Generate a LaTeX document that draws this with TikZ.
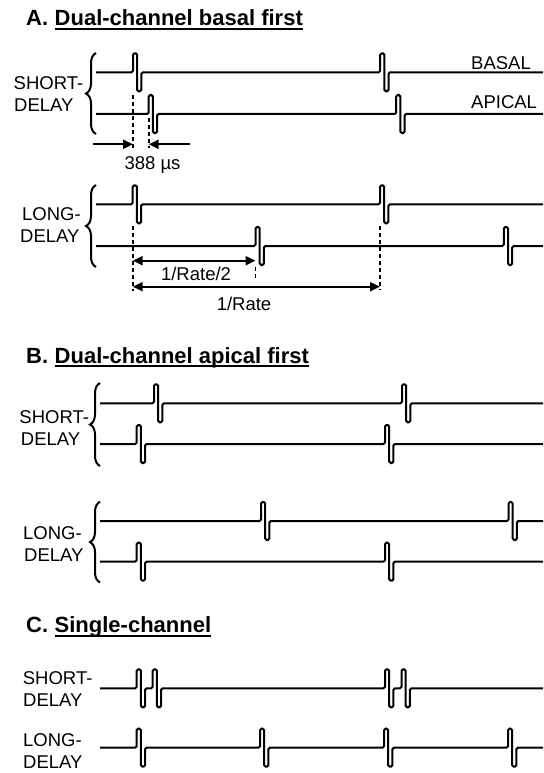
\documentclass[tikz,border=0pt]{standalone}
\usepackage{fontspec}
\setmainfont{Liberation Sans}
\usetikzlibrary{arrows.meta,decorations.pathreplacing}
\newcommand\pls[2]{-- ({#1},{#2}) -- ({#1},{#2-19}) -- ({#1+4.2},{#2-19}) -- ({#1+4.2},{#2+19}) -- ({#1+8.4},{#2+19}) -- ({#1+8.4},{#2})}
\begin{document}
\begin{tikzpicture}[x=1pt,y=-1pt,
  sig/.style={line width=2pt, rounded corners=1.5pt},
  lab/.style={font=\fontsize{18.5}{22}\selectfont, inner sep=0pt, anchor=base west},
  ttl/.style={font=\fontsize{22}{26}\selectfont\bfseries, inner sep=0pt, anchor=base west},
  brc/.style={line width=2pt, decorate, decoration={brace, amplitude=10pt}},
  dsh/.style={line width=1.6pt, dash pattern=on 4pt off 3pt},
  arr/.style={line width=2pt, -{Triangle[length=10pt,width=9pt]}},
  darr/.style={line width=2pt, {Triangle[length=10pt,width=9pt]}-{Triangle[length=10pt,width=9pt]}}]
\useasboundingbox (0,0) rectangle (543,773);
% ---------- Titles ----------
\node[ttl] (tA) at (26,26) {A.};
\node[ttl] (tAu) at ([xshift=6.1pt]tA.base east) {Dual-channel basal first};
\draw[line width=2pt] ([yshift=-3.4pt]tAu.base west) -- ([yshift=-3.4pt]tAu.base east);
\node[ttl] (tB) at (26,363) {B.};
\node[ttl] (tBu) at ([xshift=6.1pt]tB.base east) {Dual-channel apical first};
\draw[line width=2pt] ([yshift=-3.4pt]tBu.base west) -- ([yshift=-3.4pt]tBu.base east);
\node[ttl] (tC) at (26,632.7) {C.};
\node[ttl] (tCu) at ([xshift=6.1pt]tC.base east) {Single-channel};
\draw[line width=2pt] ([yshift=-3.4pt]tCu.base west) -- ([yshift=-3.4pt]tCu.base east);
% ---------- A short ----------
\node[lab] (aS1) at (13.5,89.6) {SHORT-};
\node[lab] (aS2) at (14,111.6) {DELAY};
\draw[brc] (96,134) -- (96,53);
\draw[sig] (96,72.3) \pls{133}{72.3} \pls{380.2}{72.3} -- (543,72.3);
\draw[sig] (96,114) \pls{148.7}{114} \pls{396.2}{114} -- (543,114);
\node[lab] (basal) at (471,69.3) {BASAL};
\node[lab] (apical) at (471,108.3) {APICAL};
\coordinate (d1t) at (133,95);
\coordinate (d1b) at (133,148);
\coordinate (d2t) at (148.7,118);
\coordinate (d2b) at (148.7,148);
\draw[dsh] (d1t) -- (d1b);
\draw[dsh] (d2t) -- (d2b);
\coordinate (l388) at (93,144.3);
\coordinate (r388) at (190,144.3);
\coordinate (h1) at (133,144.3);
\coordinate (h2) at (148.7,144.3);
\draw[arr] (l388) -- (h1);
\draw[arr] (r388) -- (h2);
\node[lab, anchor=base] (t388) at (152.5,169.3) {388 µs};
% ---------- A long ----------
\node[lab] (aL1) at (22,220.6) {LONG-};
\node[lab] (aL2) at (20,242.6) {DELAY};
\draw[brc] (96,267) -- (96,185);
\draw[sig] (96,204.3) \pls{132.7}{204.3} \pls{380}{204.3} -- (543,204.3);
\draw[sig] (96,246) \pls{255.5}{246} \pls{503.8}{246} -- (543,246);
\coordinate (e1t) at (132.7,226);
\coordinate (e1b) at (132.7,291);
\coordinate (e2t) at (255.5,267);
\coordinate (e2b) at (255.5,278);
\coordinate (e3t) at (380,226);
\coordinate (e3b) at (380,290);
\draw[dsh] (e1t) -- (e1b);
\draw[dsh] (e2t) -- (e2b);
\draw[dsh] (e3t) -- (e3b);
\coordinate (hr1) at (132.7,260.7);
\coordinate (hr2) at (255.5,260.7);
\coordinate (fr1) at (132.7,286.7);
\coordinate (fr2) at (380,286.7);
\draw[darr] (hr1) -- (hr2);
\draw[darr] (fr1) -- (fr2);
\node[lab, anchor=base] (thalf) at (196,280) {1/Rate/2};
\node[lab, anchor=base] (tfull) at (244,310) {1/Rate};
% ---------- B short ----------
\node[lab] (bS1) at (19.3,423.3) {SHORT-};
\node[lab] (bS2) at (20.7,445.9) {DELAY};
\draw[brc] (100,466) -- (100,383);
\draw[sig] (100,403.3) \pls{154}{403.3} \pls{402}{403.3} -- (543,403.3);
\draw[sig] (100,444) \pls{136.7}{444} \pls{385}{444} -- (543,444);
% ---------- B long ----------
\node[lab] (bL1) at (23,539.6) {LONG-};
\node[lab] (bL2) at (24,561.6) {DELAY};
\draw[brc] (100,582.5) -- (100,501.7);
\draw[sig] (100,521) \pls{261}{521} \pls{508.5}{521} -- (543,521);
\draw[sig] (100,561.7) \pls{136.7}{561.7} \pls{385}{561.7} -- (543,561.7);
% ---------- C ----------
\node[lab] (cS1) at (22.7,684.9) {SHORT-};
\node[lab] (cS2) at (23,706.6) {DELAY};
\draw[sig] (100,688.3) \pls{136.7}{688.3} \pls{152.7}{688.3} \pls{385}{688.3} \pls{401.5}{688.3} -- (543,688.3);
\node[lab] (cL1) at (23,746.6) {LONG-};
\node[lab] (cL2) at (23,768.3) {DELAY};
\draw[sig] (100,747.7) \pls{136.7}{747.7} \pls{260}{747.7} \pls{384}{747.7} \pls{508}{747.7} -- (543,747.7);
\end{tikzpicture}
\end{document}
